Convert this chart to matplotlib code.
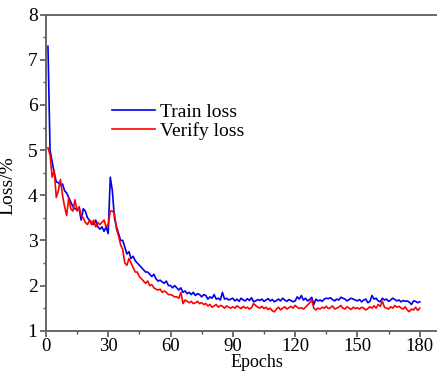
import numpy as np
import matplotlib
matplotlib.use('Agg')
import matplotlib.pyplot as plt
from matplotlib.ticker import MultipleLocator

plt.rcParams['font.family'] = ['Liberation Serif', 'DejaVu Serif']

# 训练损失 (epoch 1..180)
train_loss = [
    7.30, 5.00, 4.75, 4.50, 4.30, 4.28, 4.22, 4.25, 4.10, 4.05,
    3.95, 3.85, 3.75, 3.70, 3.68, 3.70, 3.45, 3.70, 3.65, 3.50,
    3.45, 3.40, 3.35, 3.45, 3.30, 3.25, 3.30, 3.20, 3.30, 3.15,
    4.40, 4.10, 3.50, 3.30, 3.15, 3.00, 3.00, 2.85, 2.70, 2.75,
    2.60, 2.65, 2.55, 2.50, 2.45, 2.40, 2.35, 2.30, 2.30, 2.25,
    2.20, 2.25, 2.15, 2.10, 2.12, 2.08, 2.05, 2.10, 2.00, 2.00,
    1.95, 2.00, 1.95, 1.90, 1.95, 1.85, 1.88, 1.82, 1.85, 1.80,
    1.85, 1.78, 1.82, 1.80, 1.75, 1.80, 1.78, 1.70, 1.75, 1.72,
    1.80, 1.70, 1.72, 1.68, 1.85, 1.70, 1.72, 1.68, 1.70, 1.72,
    1.66, 1.70, 1.65, 1.72, 1.68, 1.66, 1.71, 1.67, 1.73, 1.64,
    1.66, 1.69, 1.67, 1.70, 1.65, 1.68, 1.71, 1.66, 1.69, 1.64,
    1.67, 1.70, 1.66, 1.72, 1.68, 1.65, 1.69, 1.67, 1.64, 1.66,
    1.75, 1.70, 1.78, 1.68, 1.72, 1.66, 1.69, 1.74, 1.58, 1.70,
    1.66, 1.68, 1.65, 1.70, 1.72, 1.71, 1.73, 1.69, 1.66, 1.70,
    1.68, 1.74, 1.72, 1.70, 1.66, 1.69, 1.72, 1.70, 1.68, 1.66,
    1.69, 1.64, 1.68, 1.70, 1.62, 1.65, 1.78, 1.70, 1.72, 1.66,
    1.64, 1.72, 1.68, 1.70, 1.65, 1.68, 1.72, 1.69, 1.66, 1.68,
    1.64, 1.67, 1.65, 1.66, 1.63, 1.58, 1.66, 1.65, 1.62, 1.64,
]

# 验证损失 (epoch 1..180)
verify_loss = [
    5.05, 4.90, 4.40, 4.55, 3.95, 4.10, 4.35, 4.00, 3.75, 3.55,
    3.95, 3.70, 3.65, 3.90, 3.65, 3.75, 3.55, 3.50, 3.40, 3.35,
    3.45, 3.35, 3.45, 3.30, 3.40, 3.35, 3.40, 3.45, 3.30, 3.35,
    3.65, 3.65, 3.60, 3.25, 3.10, 2.90, 2.80, 2.50, 2.45, 2.60,
    2.50, 2.40, 2.30, 2.30, 2.20, 2.15, 2.10, 2.05, 2.10, 2.00,
    2.02, 1.95, 1.92, 1.90, 1.92, 1.85, 1.88, 1.85, 1.80, 1.80,
    1.78, 1.75, 1.75, 1.72, 1.85, 1.60, 1.68, 1.65, 1.62, 1.65,
    1.60, 1.62, 1.65, 1.60, 1.62, 1.58, 1.60, 1.55, 1.58, 1.52,
    1.55, 1.58, 1.52, 1.56, 1.54, 1.50, 1.55, 1.52, 1.50, 1.53,
    1.50, 1.55, 1.52, 1.49, 1.54, 1.50, 1.52, 1.48, 1.51, 1.60,
    1.56, 1.52, 1.50, 1.54, 1.49, 1.52, 1.47, 1.50, 1.44, 1.42,
    1.48, 1.52, 1.46, 1.50, 1.53, 1.48, 1.51, 1.54, 1.50, 1.56,
    1.52, 1.49, 1.51, 1.48, 1.52, 1.57, 1.62, 1.68, 1.50, 1.46,
    1.50, 1.48, 1.52, 1.50, 1.54, 1.49, 1.51, 1.55, 1.48, 1.50,
    1.52, 1.56, 1.50, 1.48, 1.53, 1.50, 1.47, 1.52, 1.49, 1.51,
    1.48, 1.52, 1.50, 1.46, 1.49, 1.53, 1.50, 1.55, 1.50, 1.58,
    1.54, 1.65, 1.52, 1.50, 1.48, 1.53, 1.50, 1.56, 1.52, 1.54,
    1.50, 1.48, 1.53, 1.46, 1.42, 1.48, 1.46, 1.52, 1.45, 1.50,
]

epochs = np.arange(1, len(train_loss) + 1)

fig = plt.figure(figsize=(4.37, 3.71), dpi=100)
ax = fig.add_axes([0.105, 0.1086, 0.895, 0.8518])

ax.plot(epochs, train_loss, color='#0000ee', lw=1.2, label='Train loss')
ax.plot(epochs, verify_loss, color='#ff0000', lw=1.2, label='Verify loss')

ax.set_xlim(0, 188.3)
ax.set_ylim(1, 8)
ax.set_xticks([0, 30, 60, 90, 120, 150, 180])
ax.xaxis.set_minor_locator(MultipleLocator(15))
ax.yaxis.set_minor_locator(MultipleLocator(0.5))

for side in ['top', 'left', 'bottom']:
    ax.spines[side].set_color('#666666')
    ax.spines[side].set_linewidth(1.4)
ax.spines['right'].set_visible(False)

ax.tick_params(which='major', direction='out', length=4, width=1.2,
               color='#555555', labelsize=14)
ax.tick_params(axis='x', which='major', pad=1.5, labelsize=13.5)
ax.tick_params(axis='y', which='major', pad=2)
ax.tick_params(which='minor', direction='out', length=2.5, width=1.0,
               color='#555555')

# x 轴标题贴近图片底边
ax.set_xlabel('Epochs', fontsize=13, va='bottom')
ax.xaxis.set_label_coords(0.587, 0.0, transform=fig.transFigure)
ax.set_ylabel('Loss/%', fontsize=14)
ax.yaxis.set_label_coords(-0.075, 0.46)

ax.legend(loc='upper left', bbox_to_anchor=(0.169, 0.72), frameon=False,
          fontsize=14, handlelength=2.2, handletextpad=0.25,
          labelspacing=0.05, borderaxespad=0, borderpad=0)

fig.savefig('out.png', dpi=100)
